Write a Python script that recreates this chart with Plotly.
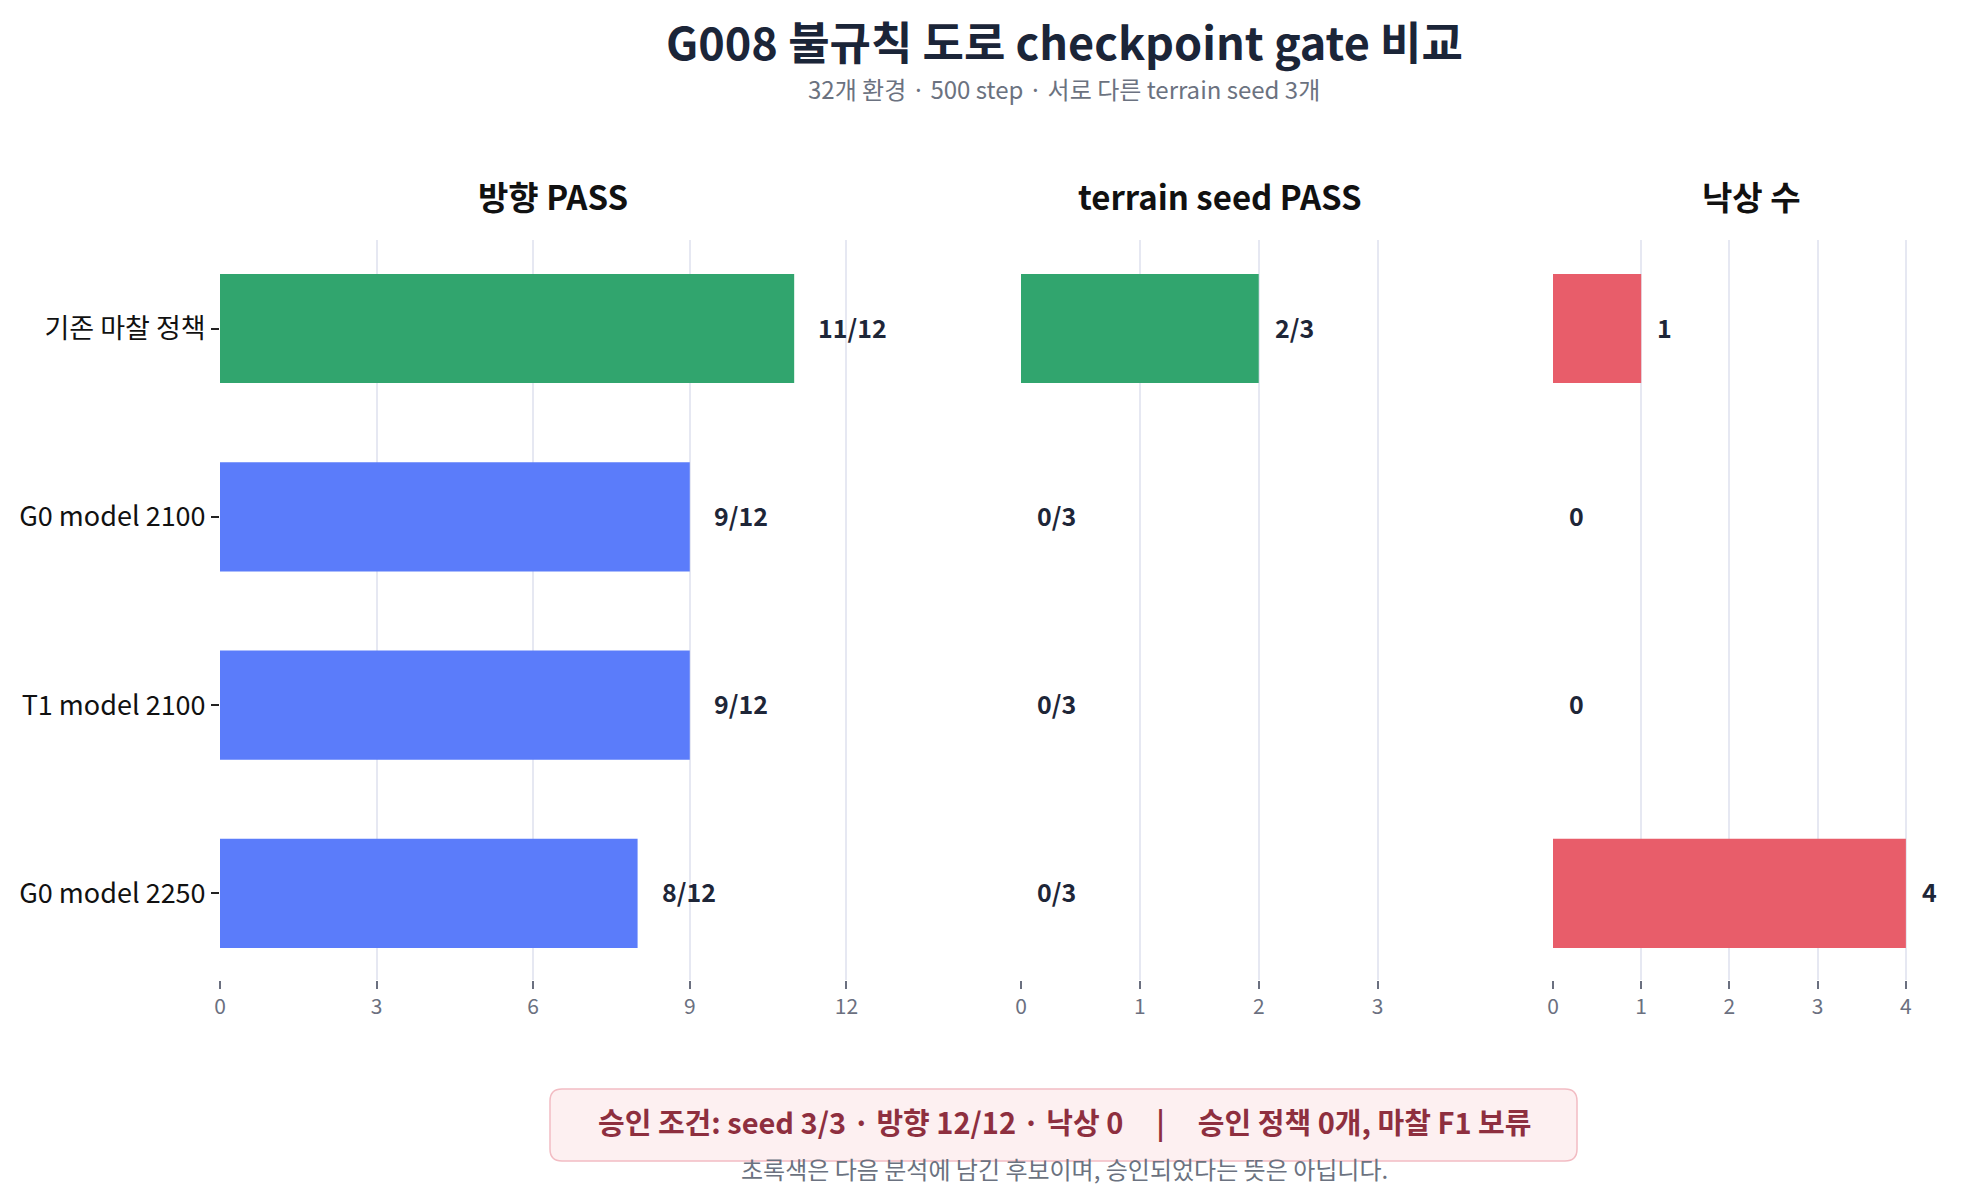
import plotly.graph_objects as go
from plotly.subplots import make_subplots

policies = ["기존 마찰 정책", "G0 model 2100", "T1 model 2100", "G0 model 2250"]
direction_pass = [11, 9, 9, 8]
direction_total = 12
seed_pass = [2, 0, 0, 0]
seed_total = 3
falls = [1, 0, 0, 4]

panel_titles = ["방향 PASS", "terrain seed PASS", "낙상 수"]
x_ticks = [[0, 3, 6, 9, 12], [0, 1, 2, 3], [0, 1, 2, 3, 4]]

GREEN = "#31a56e"
BLUE = "#5b7cfa"
RED = "#e85d6a"
FONT = "Noto Sans CJK KR, sans-serif"

# 페이지 body 여백(8px)을 빼고 잡은 그림 크기
W, H = 1954, 1184
L, R, T, B = 212, 12, 232, 212
PW, PH = W - L - R, H - T - B
OFF = 8  # body margin


def px_x(p):
    # 화면 픽셀 -> paper 좌표
    return (p - OFF - L) / PW


def px_y(p):
    return (H - B - (p - OFF)) / PH


doms = [[0, 0.385], [0.463, 0.6925], [0.7705, 1.0]]
ranges = [[0, 12.76], [0, 3.34], [0, 4.5]]

fig = make_subplots(rows=1, cols=3)

bar_colors = [GREEN if i == 0 else BLUE for i in range(len(policies))]
series = [
    (direction_pass, bar_colors, [f"{v}/{direction_total}" for v in direction_pass], 22),
    (seed_pass, bar_colors, [f"{v}/{seed_total}" for v in seed_pass], 14),
    (falls, [RED] * len(policies), [str(v) for v in falls], 14),
]

for c, (vals, cols, labels, shift) in enumerate(series, start=1):
    fig.add_trace(go.Bar(x=vals, y=policies, orientation="h", marker_color=cols,
                         marker_line_width=0, width=0.58, showlegend=False,
                         hoverinfo="skip"), row=1, col=c)
    xref = "x" if c == 1 else f"x{c}"
    yref = "y" if c == 1 else f"y{c}"
    for v, p, t in zip(vals, policies, labels):
        fig.add_annotation(x=v, y=p, xref=xref, yref=yref, text=f"<b>{t}</b>",
                           showarrow=False, xanchor="left", yanchor="middle",
                           xshift=shift, yshift=2,
                           font=dict(size=25, color="#1e2638", family=FONT))

for i in range(3):
    fig.update_xaxes(domain=doms[i], range=ranges[i], tickvals=x_ticks[i],
                     showgrid=True, gridcolor="#e6e8f2", gridwidth=1.5,
                     zeroline=False, showline=False, ticks="outside", ticklen=8,
                     tickcolor="#6b7080", tickwidth=1.5,
                     tickfont=dict(size=21, color="#6b7080", family=FONT),
                     row=1, col=i + 1)
    fig.update_yaxes(type="category", categoryorder="array", categoryarray=policies,
                     range=[3.46, -0.47], showgrid=False, zeroline=False,
                     showline=False, row=1, col=i + 1)
    fig.add_annotation(x=sum(doms[i]) / 2, y=px_y(196), xref="paper", yref="paper",
                       text=f"<b>{panel_titles[i]}</b>", showarrow=False,
                       xanchor="center", yanchor="middle",
                       font=dict(size=33, color="#111111", family=FONT))

fig.update_yaxes(ticks="outside", ticklen=8, tickcolor="#222222", tickwidth=1.5,
                 tickfont=dict(size=27, color="#111111", family=FONT), row=1, col=1)
fig.update_yaxes(showticklabels=False, row=1, col=2)
fig.update_yaxes(showticklabels=False, row=1, col=3)

# 제목
cx = px_x(1064)
fig.add_annotation(x=cx, y=px_y(41), xref="paper", yref="paper", showarrow=False,
                   xanchor="center", yanchor="middle",
                   text="<b>G008 불규칙 도로 checkpoint gate 비교</b>",
                   font=dict(size=45, color="#1b2538", family=FONT))
fig.add_annotation(x=cx, y=px_y(89), xref="paper", yref="paper", showarrow=False,
                   xanchor="center", yanchor="middle",
                   text="32개 환경 · 500 step · 서로 다른 terrain seed 3개",
                   font=dict(size=24, color="#6b7280", family=FONT))

# 하단 승인 조건 박스 (둥근 모서리)
bx0, bx1, by0, by1, rad = 550, 1577, 1089, 1161, 12


def rounded_path(x0, x1, y0, y1, r):
    pts = [
        f"M {px_x(x0 + r)},{px_y(y0)}",
        f"L {px_x(x1 - r)},{px_y(y0)}",
        f"Q {px_x(x1)},{px_y(y0)} {px_x(x1)},{px_y(y0 + r)}",
        f"L {px_x(x1)},{px_y(y1 - r)}",
        f"Q {px_x(x1)},{px_y(y1)} {px_x(x1 - r)},{px_y(y1)}",
        f"L {px_x(x0 + r)},{px_y(y1)}",
        f"Q {px_x(x0)},{px_y(y1)} {px_x(x0)},{px_y(y1 - r)}",
        f"L {px_x(x0)},{px_y(y0 + r)}",
        f"Q {px_x(x0)},{px_y(y0)} {px_x(x0 + r)},{px_y(y0)}",
        "Z",
    ]
    return " ".join(pts)


fig.add_shape(type="path", xref="paper", yref="paper",
              path=rounded_path(bx0, bx1, by0, by1, rad),
              fillcolor="#fdf0f1", line=dict(color="#f2bcc3", width=1.5), layer="below")
fig.add_annotation(x=cx, y=px_y(1121), xref="paper", yref="paper", showarrow=False,
                   xanchor="center", yanchor="middle",
                   text="<b>승인 조건: seed 3/3 · 방향 12/12 · 낙상 0 &nbsp; &nbsp; | &nbsp; &nbsp; 승인 정책 0개, 마찰 F1 보류</b>",
                   font=dict(size=29, color="#8e2f3f", family=FONT))
fig.add_annotation(x=cx, y=px_y(1168), xref="paper", yref="paper", showarrow=False,
                   xanchor="center", yanchor="middle",
                   text="초록색은 다음 분석에 남긴 후보이며, 승인되었다는 뜻은 아닙니다.",
                   font=dict(size=24, color="#6b7280", family=FONT))

fig.update_layout(width=W, height=H, plot_bgcolor="white", paper_bgcolor="white",
                  margin=dict(l=L, r=R, t=T, b=B, autoexpand=False),
                  font=dict(family=FONT), bargap=0.42)

fig.write_html("out.html")
